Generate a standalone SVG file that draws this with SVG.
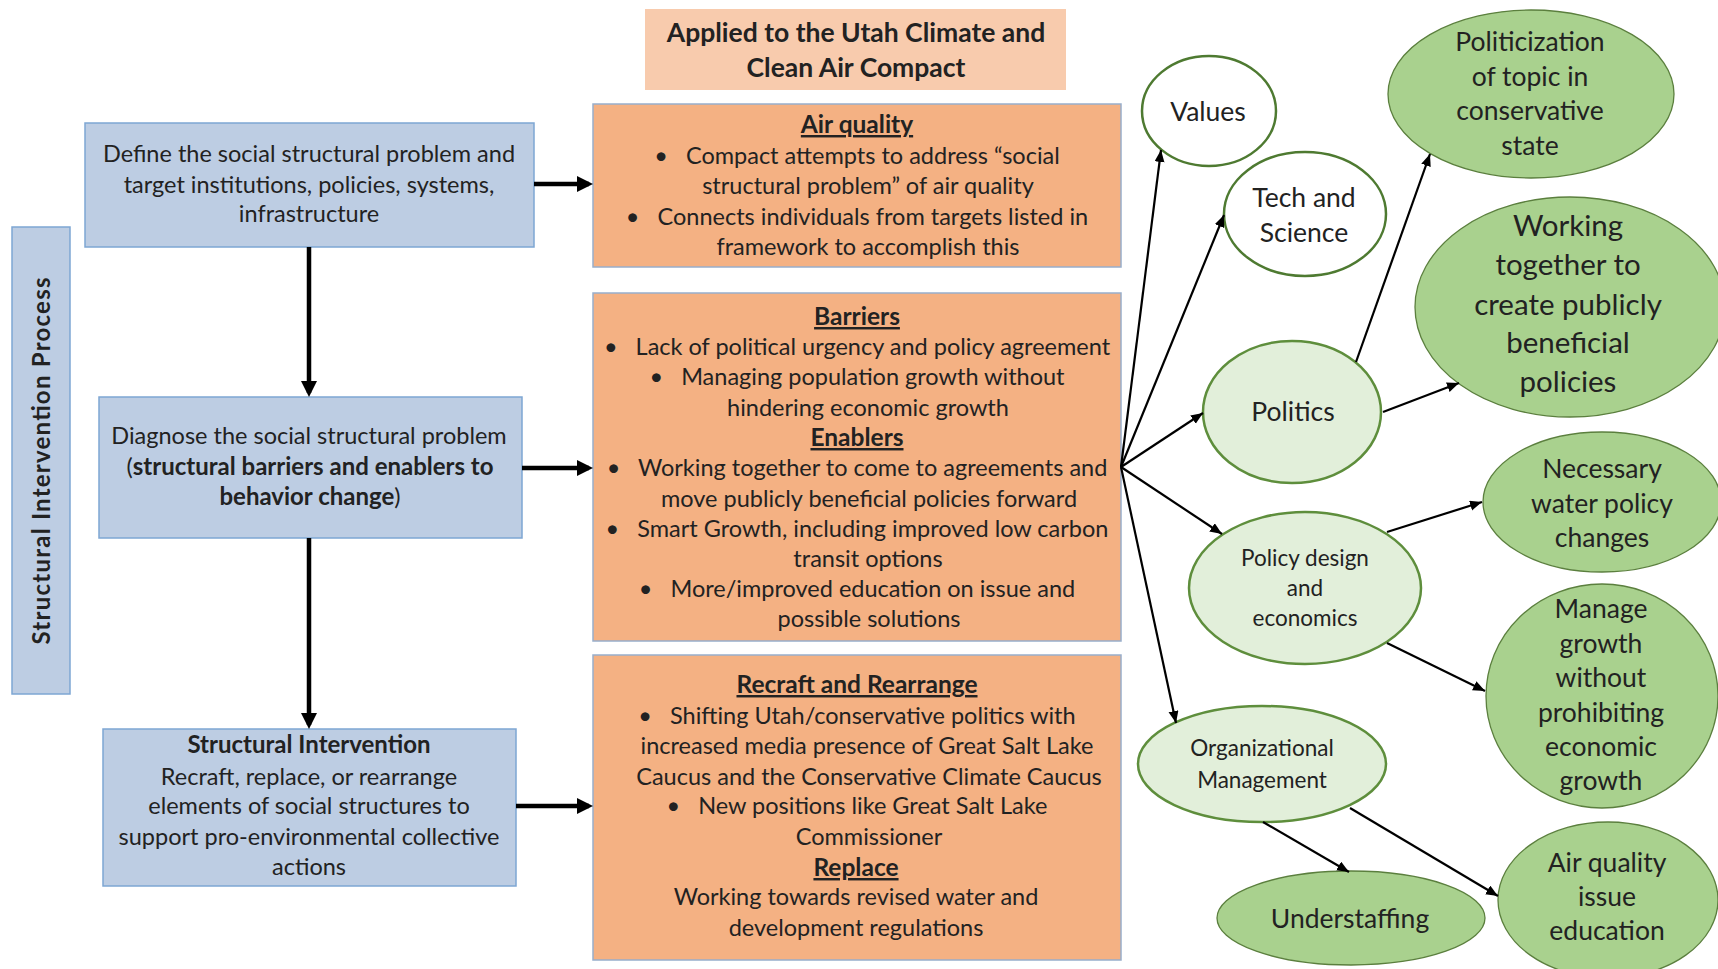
<svg xmlns="http://www.w3.org/2000/svg" width="1718" height="969" viewBox="0 0 1718 969">
  <defs>
    <style>
      text { font-family: Lato, "Open Sans", "Liberation Sans", sans-serif; fill: #222; }
      .t { font-size: 23.5px; text-anchor: middle; }
      .b { font-weight: bold; font-size: 24px; }
      .u { font-weight: bold; font-size: 24.5px; text-decoration: underline; }
      .step { fill: #BDCDE3; stroke: #7EA6D3; stroke-width: 1.5; }
      .app { fill: #F4B183; stroke: #98AECB; stroke-width: 1.5; }
      .title { fill: #F8CBAD; }
      .white { fill: #FFFFFF; stroke: #4E7A31; stroke-width: 2.5; }
      .light { fill: #E2EFDA; stroke: #5E8E3C; stroke-width: 2.5; }
      .dark { fill: #A9D18E; stroke: #5B7F3E; stroke-width: 1.3; }
      .el { font-size: 26.5px; text-anchor: middle; }
      .sm { font-size: 22.5px; }
      .big { font-size: 29.5px; text-anchor: middle; }
      .thick { stroke: #000; stroke-width: 4.5; fill: none; marker-end: url(#headBig); }
      .thin { stroke: #000; stroke-width: 2.2; fill: none; marker-end: url(#headSmall); }
    </style>
    <marker id="headBig" markerUnits="userSpaceOnUse" markerWidth="18" markerHeight="18" refX="12" refY="8" orient="auto">
      <path d="M0,0 L16,8 L0,16 z" fill="#000"/>
    </marker>
    <marker id="headSmall" markerUnits="userSpaceOnUse" markerWidth="14" markerHeight="12" refX="12" refY="5" orient="auto">
      <path d="M0,0 L12,5 L0,10 z" fill="#000"/>
    </marker>
  </defs>

  <rect width="1718" height="969" fill="#FFFFFF"/>

  <!-- vertical process label -->
  <g id="process-bar">
    <rect class="step" x="12" y="227" width="58" height="467"/>
    <text font-weight="bold" font-size="24" text-anchor="middle" textLength="367" lengthAdjust="spacing" transform="translate(50 461) rotate(-90)">Structural Intervention Process</text>
  </g>

  <!-- process steps -->
  <g id="step-define">
    <rect class="step" x="85" y="123" width="449" height="124"/>
    <text class="t" x="309" y="162">Define the social structural problem and</text>
    <text class="t" x="309" y="193">target institutions, policies, systems,</text>
    <text class="t" x="309" y="222">infrastructure</text>
  </g>

  <g id="step-diagnose">
    <rect class="step" x="99" y="397" width="423" height="141"/>
    <text class="t" x="309" y="444">Diagnose the social structural problem</text>
    <text class="t" x="310" y="475">(<tspan class="b">structural barriers and enablers to</tspan></text>
    <text class="t" x="310" y="505"><tspan class="b">behavior change</tspan>)</text>
  </g>

  <g id="step-intervene">
    <rect class="step" x="103" y="729" width="413" height="157"/>
    <text class="t b" x="309" y="753">Structural Intervention</text>
    <text class="t" x="309" y="785">Recraft, replace, or rearrange</text>
    <text class="t" x="309" y="814">elements of social structures to</text>
    <text class="t" x="309" y="845">support pro-environmental collective</text>
    <text class="t" x="309" y="875">actions</text>
  </g>

  <!-- application column -->
  <g id="applied-title">
    <rect class="title" x="645" y="9" width="421" height="81"/>
    <text font-weight="bold" font-size="26.5" text-anchor="middle" x="856" y="42">Applied to the Utah Climate and</text>
    <text font-weight="bold" font-size="26.5" text-anchor="middle" x="856" y="77">Clean Air Compact</text>
  </g>

  <g id="applied-air-quality">
    <rect class="app" x="593" y="104" width="528" height="163"/>
    <text class="t u" x="857" y="133">Air quality</text>
    <text class="t" x="857" y="164">•&#160;&#160;&#160;Compact attempts to address “social</text>
    <text class="t" x="868" y="194">structural problem” of air quality</text>
    <text class="t" x="857" y="225">•&#160;&#160;&#160;Connects individuals from targets listed in</text>
    <text class="t" x="868" y="255">framework to accomplish this</text>
  </g>

  <g id="applied-barriers-enablers">
    <rect class="app" x="593" y="293" width="528" height="348"/>
    <text class="t u" x="857" y="325">Barriers</text>
    <text class="t" x="857" y="355">•&#160;&#160;&#160;Lack of political urgency and policy agreement</text>
    <text class="t" x="857" y="385">•&#160;&#160;&#160;Managing population growth without</text>
    <text class="t" x="868" y="416">hindering economic growth</text>
    <text class="t u" x="857" y="446">Enablers</text>
    <text class="t" x="857" y="476">•&#160;&#160;&#160;Working together to come to agreements and</text>
    <text class="t" x="869" y="507">move publicly beneficial policies forward</text>
    <text class="t" x="857" y="537">•&#160;&#160;&#160;Smart Growth, including improved low carbon</text>
    <text class="t" x="868" y="567">transit options</text>
    <text class="t" x="857" y="597">•&#160;&#160;&#160;More/improved education on issue and</text>
    <text class="t" x="869" y="627">possible solutions</text>
  </g>

  <g id="applied-recraft-replace">
    <rect class="app" x="593" y="655" width="528" height="305"/>
    <text class="t u" x="857" y="693">Recraft and Rearrange</text>
    <text class="t" x="857" y="724">•&#160;&#160;&#160;Shifting Utah/conservative politics with</text>
    <text class="t" x="867" y="754">increased media presence of Great Salt Lake</text>
    <text class="t" x="869" y="785">Caucus and the Conservative Climate Caucus</text>
    <text class="t" x="857" y="814">•&#160;&#160;&#160;New positions like Great Salt Lake</text>
    <text class="t" x="869" y="845">Commissioner</text>
    <text class="t u" x="856" y="876">Replace</text>
    <text class="t" x="856" y="905">Working towards revised water and</text>
    <text class="t" x="856" y="936">development regulations</text>
  </g>

  <!-- themes -->
  <g id="theme-values">
    <ellipse class="white" cx="1209" cy="111" rx="67" ry="55"/>
    <text class="el" font-size="26" x="1208" y="121">Values</text>
  </g>
  <g id="theme-tech">
    <ellipse class="white" cx="1305" cy="214" rx="81" ry="62"/>
    <text class="el" font-size="26" x="1304" y="207">Tech and</text>
    <text class="el" font-size="26" x="1304" y="242">Science</text>
  </g>
  <g id="theme-politics">
    <ellipse class="light" cx="1292" cy="412" rx="89" ry="71"/>
    <text class="el" font-size="25" x="1293" y="421">Politics</text>
  </g>
  <g id="theme-policy">
    <ellipse class="light" cx="1305" cy="588" rx="116" ry="76"/>
    <text class="el sm" x="1305" y="566">Policy design</text>
    <text class="el sm" x="1305" y="596">and</text>
    <text class="el sm" x="1305" y="626">economics</text>
  </g>
  <g id="theme-organization">
    <ellipse class="light" cx="1262" cy="764" rx="124" ry="58"/>
    <text class="el sm" x="1262" y="756">Organizational</text>
    <text class="el sm" x="1262" y="788">Management</text>
  </g>

  <!-- findings -->
  <g id="finding-politicization">
    <ellipse class="dark" cx="1531" cy="94" rx="143" ry="84"/>
    <text class="el" x="1530" y="51">Politicization</text>
    <text class="el" x="1530" y="86">of topic in</text>
    <text class="el" x="1530" y="120">conservative</text>
    <text class="el" x="1530" y="155">state</text>
  </g>
  <g id="finding-working-together">
    <ellipse class="dark" cx="1570" cy="307" rx="155" ry="110"/>
    <text class="big" x="1568" y="236">Working</text>
    <text class="big" x="1568" y="275">together to</text>
    <text class="big" x="1568" y="315">create publicly</text>
    <text class="big" x="1568" y="353">beneficial</text>
    <text class="big" x="1568" y="392">policies</text>
  </g>
  <g id="finding-water-policy">
    <ellipse class="dark" cx="1602" cy="502" rx="119" ry="70"/>
    <text class="el" x="1602" y="478">Necessary</text>
    <text class="el" x="1602" y="513">water policy</text>
    <text class="el" x="1602" y="547">changes</text>
  </g>
  <g id="finding-manage-growth">
    <ellipse class="dark" cx="1602" cy="696" rx="116" ry="112"/>
    <text class="el" x="1601" y="618">Manage</text>
    <text class="el" x="1601" y="653">growth</text>
    <text class="el" x="1601" y="687">without</text>
    <text class="el" x="1601" y="722">prohibiting</text>
    <text class="el" x="1601" y="756">economic</text>
    <text class="el" x="1601" y="790">growth</text>
  </g>
  <g id="finding-understaffing">
    <ellipse class="dark" cx="1351" cy="918" rx="134" ry="47"/>
    <text class="el" x="1350" y="928">Understaffing</text>
  </g>
  <g id="finding-air-education">
    <ellipse class="dark" cx="1608" cy="900" rx="110" ry="78"/>
    <text class="el" x="1607" y="872">Air quality</text>
    <text class="el" x="1607" y="906">issue</text>
    <text class="el" x="1607" y="940">education</text>
  </g>

  <!-- connectors -->
  <g id="connectors">
    <line class="thick" x1="534" y1="184" x2="589" y2="184"/>
    <line class="thick" x1="522" y1="468" x2="589" y2="468"/>
    <line class="thick" x1="516" y1="806" x2="589" y2="806"/>
    <line class="thick" x1="309" y1="247" x2="309" y2="393"/>
    <line class="thick" x1="309" y1="538" x2="309" y2="725"/>

    <line class="thin" x1="1121" y1="467" x2="1161" y2="150"/>
    <line class="thin" x1="1121" y1="467" x2="1224" y2="215"/>
    <line class="thin" x1="1121" y1="467" x2="1203" y2="413"/>
    <line class="thin" x1="1121" y1="467" x2="1222" y2="534"/>
    <line class="thin" x1="1121" y1="467" x2="1176" y2="723"/>

    <line class="thin" x1="1356" y1="362" x2="1430" y2="154"/>
    <line class="thin" x1="1383" y1="412" x2="1459" y2="383"/>
    <line class="thin" x1="1387" y1="532" x2="1482" y2="502"/>
    <line class="thin" x1="1387" y1="643" x2="1485" y2="691"/>
    <line class="thin" x1="1263" y1="822" x2="1349" y2="872"/>
    <line class="thin" x1="1350" y1="808" x2="1498" y2="896"/>
  </g>
</svg>
